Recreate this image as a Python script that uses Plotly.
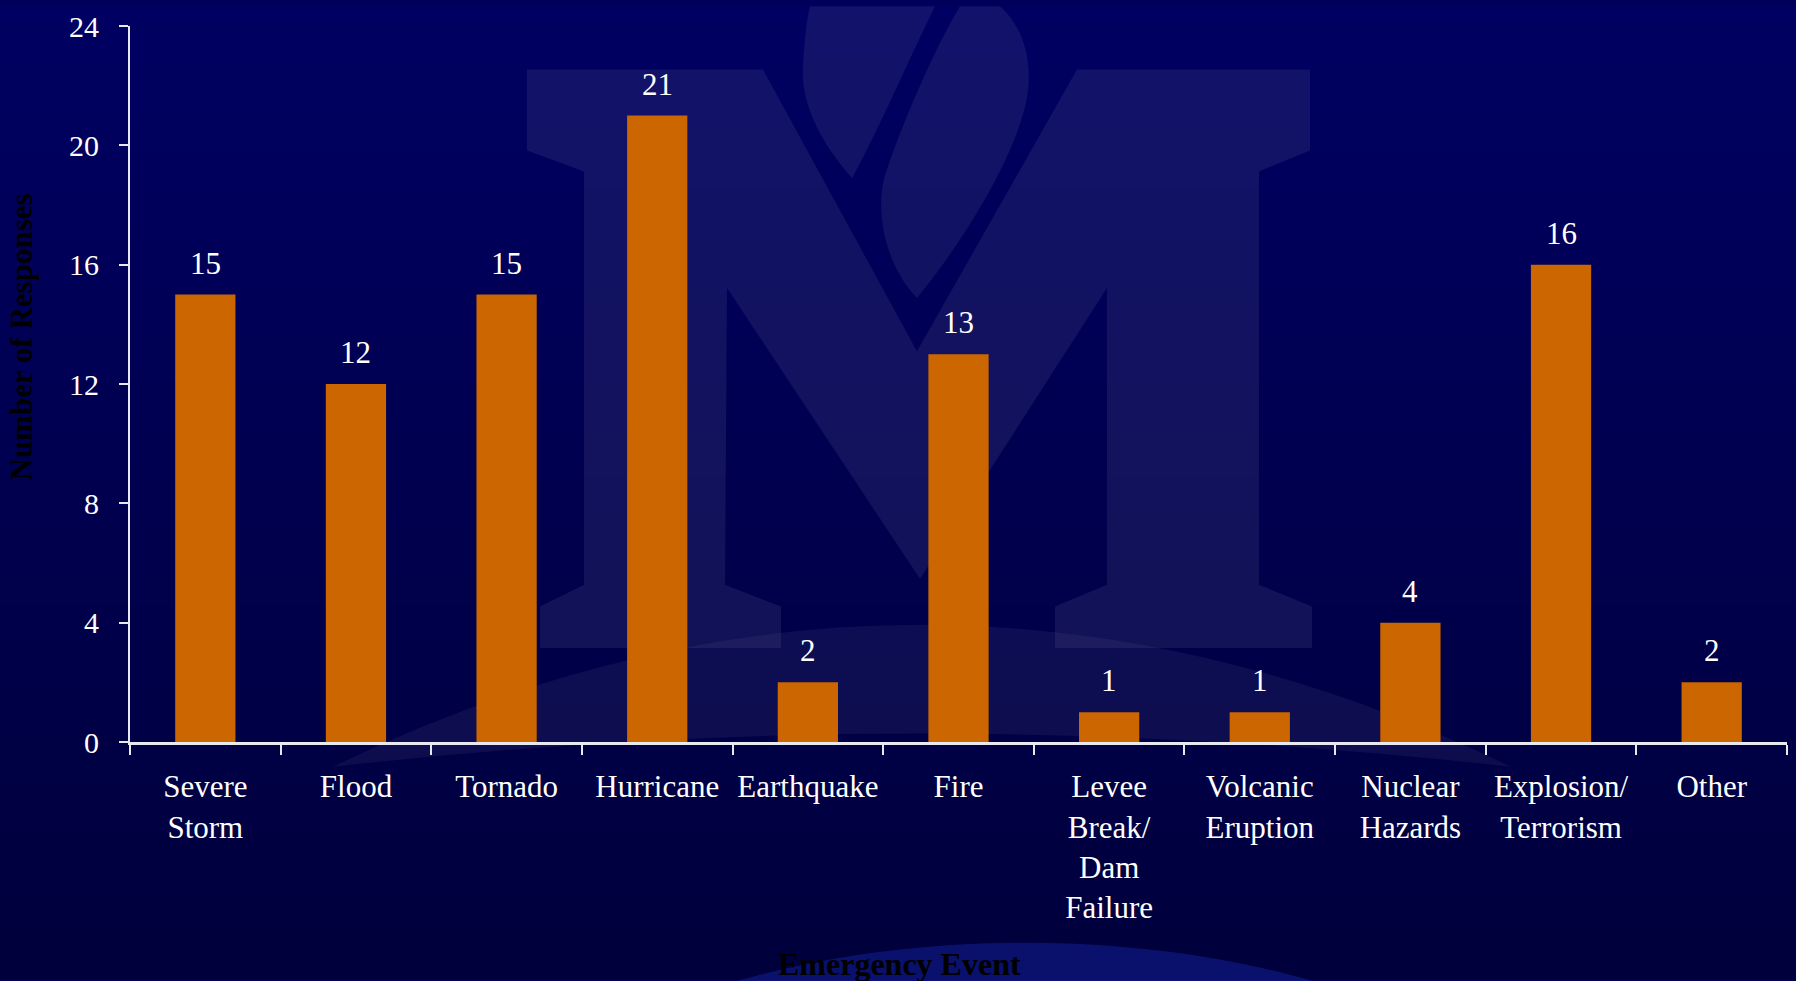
import plotly.graph_objects as go

categories = ["Severe<br>Storm", "Flood", "Tornado", "Hurricane", "Earthquake", "Fire",
              "Levee<br>Break/<br>Dam<br>Failure", "Volcanic<br>Eruption", "Nuclear<br>Hazards",
              "Explosion/<br>Terrorism", "Other"]
responses = [15, 12, 15, 21, 2, 13, 1, 1, 4, 16, 2]
y_ticks = [0, 4, 8, 12, 16, 20, 24]

W, H = 1796, 981
L, R, T, B = 130, 9, 18, 239
PW, PH = W - L - R, H - T - B


def px(x):
    return (x - L) / PW


def py(y):
    return (H - B - y) / PH


def pt(x, y):
    return f"{px(x):.5f},{py(y):.5f}"


def path(points):
    return "M " + " L ".join(pt(x, y) for x, y in points) + " Z"


SERIF = "Liberation Serif, Times New Roman, serif"
shapes = []

# background gradient
n = 60
top_c = (0, 0, 98)
bot_c = (0, 0, 60)
for i in range(n):
    t = i / (n - 1)
    c = tuple(int(round(top_c[k] + (bot_c[k] - top_c[k]) * t)) for k in range(3))
    y0 = i * H / n - (2 if i == 0 else 0)
    y1 = (i + 1) * H / n + 1
    shapes.append(dict(type="rect", xref="paper", yref="paper", layer="below",
                       x0=px(-5), x1=px(W + 5), y0=py(y1), y1=py(y0),
                       fillcolor=f"rgb{c}", line=dict(width=0)))

wm = "rgba(85,85,140,0.21)"
# watermark M
m_pts = [(527, 62), (763, 62), (917, 347), (1077, 62), (1310, 62), (1310, 144), (1259, 165),
         (1259, 583), (1312, 605), (1312, 647), (1055, 647), (1055, 605), (1107, 583),
         (1107, 283), (920, 577), (727, 283), (725, 583), (781, 605), (781, 647), (540, 647),
         (540, 605), (584, 583), (584, 165), (527, 144)]
shapes.append(dict(type="path", xref="paper", yref="paper", layer="below",
                   path=path(m_pts), fillcolor=wm, line=dict(width=0)))
# flame lobes
lobe_left = (f"M {pt(852,172)} C {pt(820,135)} {pt(800,95)} {pt(803,57)} "
             f"C {pt(805,25)} {pt(808,5)} {pt(810,-2)} L {pt(935,-2)} "
             f"C {pt(905,60)} {pt(880,120)} {pt(852,172)} Z")
lobe_right = (f"M {pt(917,293)} C {pt(885,260)} {pt(872,200)} {pt(888,160)} "
              f"C {pt(905,110)} {pt(935,40)} {pt(960,-2)} L {pt(1000,-2)} "
              f"C {pt(1025,20)} {pt(1035,60)} {pt(1025,100)} "
              f"C {pt(1010,160)} {pt(960,240)} {pt(917,293)} Z")
for lobe in (lobe_left, lobe_right):
    shapes.append(dict(type="path", xref="paper", yref="paper", layer="below",
                       path=lobe, fillcolor=wm, line=dict(width=0)))
# crescent
cr = (f"M {pt(333,767)} Q {pt(920,480)} {pt(1511,767)} Q {pt(920,700)} {pt(333,767)} Z")
shapes.append(dict(type="path", xref="paper", yref="paper", layer="below",
                   path=cr, fillcolor="rgba(85,85,140,0.15)", line=dict(width=0)))
# bottom glow
shapes.append(dict(type="circle", xref="paper", yref="paper", layer="below",
                   x0=px(520), x1=px(1530), y0=py(1380), y1=py(945),
                   fillcolor="rgba(25,45,190,0.38)", line=dict(width=0)))

fig = go.Figure()
fig.add_trace(go.Bar(x=categories, y=responses, marker=dict(color="#CC6600", line=dict(width=0)),
                     width=0.4, hoverinfo="x+y"))

annotations = []
for c, v in zip(categories, responses):
    annotations.append(dict(x=c, y=v, xref="x", yref="y", text=str(v), showarrow=False,
                            yanchor="bottom", yshift=12,
                            font=dict(family=SERIF, size=31, color="white")))
annotations.append(dict(x=px(22), y=py(333), xref="paper", yref="paper", xanchor="center",
                        yanchor="middle", text="<b>Number of Responses</b>", textangle=-90,
                        showarrow=False, font=dict(family=SERIF, size=31, color="black")))
annotations.append(dict(x=px(899), y=py(966), xref="paper", yref="paper", xanchor="center",
                        yanchor="middle", text="<b>Emergency Event</b>", showarrow=False,
                        font=dict(family=SERIF, size=32, color="black")))

fig.update_layout(
    width=W, height=H,
    margin=dict(l=L, r=R, t=T, b=B, pad=0),
    paper_bgcolor="rgb(0,0,90)",
    plot_bgcolor="rgba(0,0,0,0)",
    showlegend=False,
    shapes=shapes,
    annotations=annotations,
    bargap=0.6,
    font=dict(family=SERIF, color="white"),
)
fig.update_xaxes(type="category", showline=True, linecolor="#e8e8f0", linewidth=3,
                 ticks="outside", tickson="boundaries", ticklen=10, tickwidth=2, tickcolor="#e8e8f0",
                 tickfont=dict(family=SERIF, size=31, color="white"), showgrid=False,
                 zeroline=False, tickangle=0, ticklabelstandoff=15)
fig.update_yaxes(range=[0, 24], tickvals=y_ticks, ticktext=[str(v) for v in y_ticks],
                 showline=True, linecolor="#e8e8f0", linewidth=2, ticks="outside", ticklen=9,
                 tickwidth=2, tickcolor="#e8e8f0", tickfont=dict(family=SERIF, size=30, color="white"),
                 showgrid=False, zeroline=False, ticklabelstandoff=14)

fig.write_html("out.html", config={"displayModeBar": False},
               post_script="document.body.style.margin='0';")
